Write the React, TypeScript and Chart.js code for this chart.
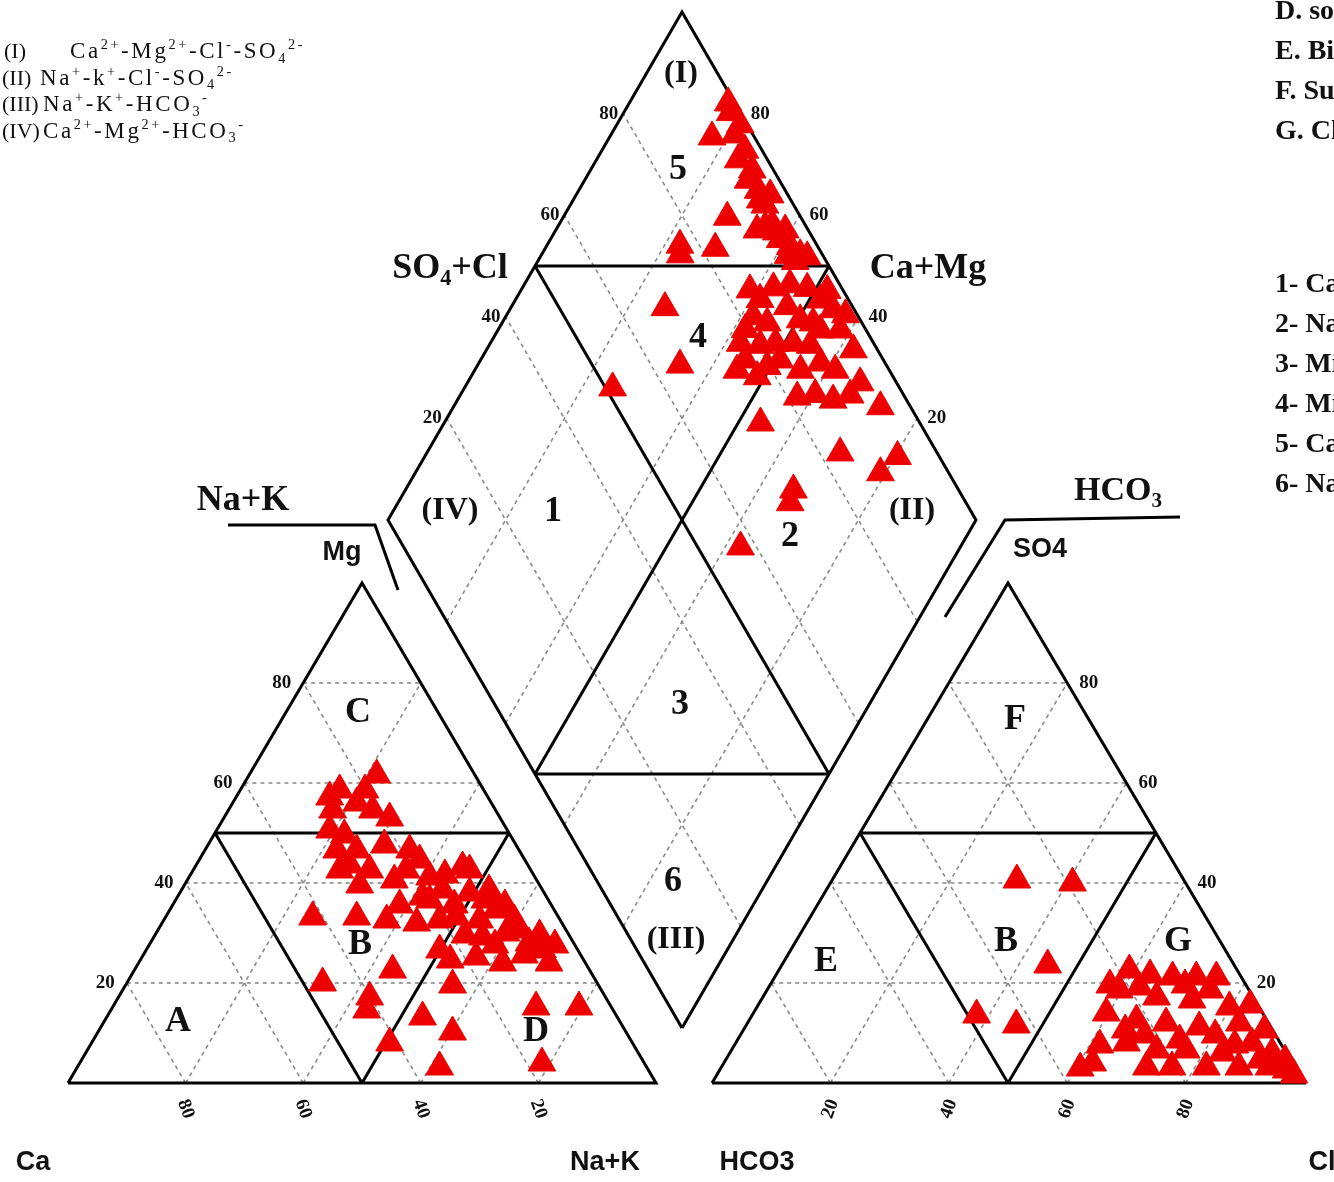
import React, { useEffect, useRef } from "react";
import { Chart, registerables } from "chart.js";
Chart.register(...registerables);

const W = 1334;
const H = 1182;

// ---------------- data (percent compositions) ----------------
// Cation triangle: Mg % and Na+K % (Ca = remainder)
const cationMg = [61.6, 57.2, 54.6, 56.0, 54.6, 53.0, 46.6, 46.6, 42.6, 42.6, 46.6, 42.6, 41.2, 37.2, 38.6, 43.2, 38.0, 33.2, 38.6, 34.6, 30.0, 29.2, 32.0, 28.0, 26.6, 24.0, 24.0, 25.2, 26.6, 33.2, 33.2, 32.6, 22.6, 20.0, 17.2, 14.6, 19.6, 13.2, 10.2, 8.0, 3.2, 15.2, 15.2, 4.0, 35.6, 32.6, 25.6, 32.6, 32.6, 49.6, 47.6, 39.6, 40.6, 44.6, 41.6, 42.6, 36.6, 35.6, 30.6, 29.6, 27.6, 29.6, 24.6, 27.6, 36.6, 35.6, 50.6, 43.6, 58.6, 58.6];
const cationNaK = [21.7, 15.9, 17.7, 21.1, 24.5, 28.2, 22.4, 25.8, 24.9, 30.0, 34.8, 36.2, 40.9, 41.7, 44.4, 45.5, 49.3, 49.4, 52.3, 55.5, 59.5, 55.9, 43.3, 64.4, 67.4, 69.8, 61.9, 56.8, 49.9, 25.0, 32.5, 37.9, 43.9, 33.3, 42.7, 43.5, 55.6, 53.7, 60.3, 50.7, 61.6, 72.0, 79.3, 78.6, 47.9, 59.6, 64.8, 53.7, 46.9, 22.2, 30.0, 29.8, 35.2, 37.5, 43.3, 47.0, 52.6, 56.5, 61.5, 65.4, 69.0, 52.7, 52.7, 58.8, 43.2, 38.6, 19.2, 26.1, 16.9, 21.2];
// Anion triangle: SO4 % and Cl % (HCO3 = remainder)
const anionSO4 = [40.6, 40.0, 23.6, 13.6, 11.6, 22.6, 19.2, 21.2, 21.2, 21.2, 17.2, 16.6, 15.2, 14.0, 12.6, 12.0, 11.2, 12.0, 8.0, 8.0, 6.6, 6.6, 6.0, 3.2, 3.2, 3.2, 3.2, 3.2, 2.6, 4.0, 6.0, 1.6, 10.6, 18.6, 19.6, 21.6, 19.6, 18.6, 10.6, 7.6, 9.6, 8.6, 9.6, 15.6, 7.6, 4.6, 4.6, 3.0];
const anionCl = [31.2, 40.9, 44.9, 37.9, 45.6, 59.2, 62.6, 67.2, 71.2, 74.6, 66.5, 72.8, 79.8, 59.6, 65.4, 70.7, 76.7, 83.1, 87.2, 66.0, 71.8, 76.8, 83.2, 71.8, 76.1, 81.9, 87.4, 92.5, 95.7, 62.3, 91.6, 97.5, 88.0, 59.5, 57.4, 63.2, 70.1, 74.8, 64.5, 61.7, 68.3, 74.7, 80.2, 83.1, 84.5, 90.3, 94.5, 60.7];
// Diamond: SO4+Cl % and Ca+Mg %
const diamondSO4Cl = [98.3, 92.8, 96.9, 97.1, 96.4, 95.4, 95.1, 94.4, 94.3, 94.1, 94.7, 87.5, 93.0, 76.7, 75.8, 82.4, 95.3, 97.2, 98.8, 94.8, 94.4, 94.7, 68.0, 64.9, 51.2, 88.4, 94.1, 97.3, 82.1, 77.3, 74.1, 83.9, 88.9, 86.3, 79.6, 91.7, 96.4, 95.6, 95.9, 89.0, 76.9, 81.7, 87.5, 93.8, 94.9, 72.9, 83.5, 92.9, 88.4, 70.1, 71.9, 57.3, 95.2, 98.0, 89.8, 89.0, 83.3, 79.5, 85.0, 95.0, 97.0, 96.1, 96.2, 91.3, 98.9, 84.2, 91.5, 92.2, 82.4, 84.9, 90.8, 90.9, 85.0, 76.5, 80.5];
const diamondCaMg = [81.9, 82.6, 78.9, 75.7, 72.5, 69.5, 66.9, 63.7, 60.9, 58.0, 72.2, 72.1, 64.7, 77.4, 76.4, 71.1, 58.5, 54.6, 79.0, 68.2, 62.3, 56.2, 73.8, 65.6, 74.8, 57.3, 51.5, 47.9, 57.9, 57.5, 55.4, 54.9, 53.1, 48.5, 50.6, 47.1, 45.0, 41.8, 37.6, 41.9, 51.3, 42.5, 36.1, 33.2, 27.4, 46.2, 29.7, 19.6, 20.9, 33.3, 34.0, 37.4, 48.1, 42.4, 49.6, 45.4, 51.5, 58.0, 58.4, 75.9, 67.0, 61.0, 56.0, 65.8, 83.2, 61.1, 54.8, 45.2, 49.1, 44.6, 38.7, 33.7, 39.7, 55.0, 53.9];

const gridTicks = [20, 40, 60, 80];
const zoneSplit = 50;

const typeCodes = ["(I)", "(II)", "(III)", "(IV)"];
const typeFormulas = [
  "Ca^{2+}-Mg^{2+}-Cl^{-}-SO_{4}^{2-}",
  "Na^{+}-k^{+}-Cl^{-}-SO_{4}^{2-}",
  "Na^{+}-K^{+}-HCO_{3}^{-}",
  "Ca^{2+}-Mg^{2+}-HCO_{3}^{-}",
];
const waterTypes = [
  "A. Calcium type",
  "B. No dominant type",
  "C. Magnesium type",
  "D. sodium and potassium type",
  "E. Bicarbonate type",
  "F. Sulphate type",
  "G. Chloride type",
];
const zoneTypes = [
  "1- Ca-HCO3 type",
  "2- Na-Cl type",
  "3- Mixed Ca-Na-HCO3 type",
  "4- Mixed Ca-Mg-Cl type",
  "5- Ca-Cl type",
  "6- Na-HCO3 type",
];

// ---------------- geometry ----------------
type P = { x: number; y: number };
type Tri = { a: P; b: P; c: P };
const CAT: Tri = { a: { x: 68, y: 1083 }, b: { x: 656, y: 1083 }, c: { x: 362, y: 583 } }; // Ca, Na+K, Mg
const AN: Tri = { a: { x: 712, y: 1083 }, b: { x: 1304, y: 1083 }, c: { x: 1008, y: 583 } }; // HCO3, Cl, SO4
const DIA = { b: { x: 682, y: 1028 }, r: { x: 976, y: 520 }, l: { x: 388, y: 520 } };

function tern(T: Tri, pb: number, pc: number): P {
  return {
    x: T.a.x + (pb / 100) * (T.b.x - T.a.x) + (pc / 100) * (T.c.x - T.a.x),
    y: T.a.y + (pb / 100) * (T.b.y - T.a.y) + (pc / 100) * (T.c.y - T.a.y),
  };
}
function dia(s: number, m: number): P {
  return {
    x: DIA.b.x + (s / 100) * (DIA.r.x - DIA.b.x) + (m / 100) * (DIA.l.x - DIA.b.x),
    y: DIA.b.y + (s / 100) * (DIA.r.y - DIA.b.y) + (m / 100) * (DIA.l.y - DIA.b.y),
  };
}

const dashed: P[][] = [];
const solid: P[][] = [];
for (const T of [CAT, AN]) {
  solid.push([tern(T, 0, 0), tern(T, 100, 0), tern(T, 0, 100), tern(T, 0, 0)]);
  for (const v of gridTicks) {
    dashed.push([tern(T, 0, v), tern(T, 100 - v, v)]);
    dashed.push([tern(T, v, 0), tern(T, v, 100 - v)]);
    dashed.push([tern(T, 100 - v, 0), tern(T, 0, 100 - v)]);
  }
  const h = zoneSplit;
  solid.push([tern(T, 0, h), tern(T, h, h)]);
  solid.push([tern(T, h, 0), tern(T, h, h)]);
  solid.push([tern(T, h, 0), tern(T, 0, h)]);
}
solid.push([dia(0, 0), dia(100, 0), dia(100, 100), dia(0, 100), dia(0, 0)]);
for (const v of gridTicks) {
  dashed.push([dia(v, 0), dia(v, 100)]);
  dashed.push([dia(0, v), dia(100, v)]);
}
solid.push([dia(zoneSplit, 0), dia(zoneSplit, 100)]);
solid.push([dia(0, zoneSplit), dia(100, zoneSplit)]);
solid.push([dia(zoneSplit, 100), dia(100, zoneSplit)]);
solid.push([dia(zoneSplit, 0), dia(0, zoneSplit)]);
// axis brackets
solid.push([{ x: 228, y: 525 }, { x: 375, y: 525 }, { x: 398, y: 590 }]);
solid.push([{ x: 1180, y: 517 }, { x: 1005, y: 520 }, { x: 945, y: 617 }]);

const serif = "'Liberation Serif', 'Times New Roman', serif";
const sans = "'Liberation Sans', Arial, sans-serif";

function drawRich(ctx: CanvasRenderingContext2D, text: string, x: number, y: number, size: number, family: string, weight: string, align: "left" | "center" = "left", spacing = 0) {
  const parts = text.split(/(\^\{[^}]*\}|_\{[^}]*\})/).filter((p) => p.length > 0);
  const segs = parts.map((p) => {
    if (p.startsWith("^{")) return { t: p.slice(2, -1), fs: size * 0.62, dy: -size * 0.38 };
    if (p.startsWith("_{")) return { t: p.slice(2, -1), fs: size * 0.62, dy: size * 0.2 };
    return { t: p, fs: size, dy: 0 };
  });
  (ctx as any).letterSpacing = `${spacing}px`;
  let total = 0;
  for (const s of segs) {
    ctx.font = `${weight} ${s.fs}px ${family}`;
    total += ctx.measureText(s.t).width;
  }
  let cx = align === "center" ? x - total / 2 : x;
  ctx.textAlign = "left";
  ctx.textBaseline = "alphabetic";
  for (const s of segs) {
    ctx.font = `${weight} ${s.fs}px ${family}`;
    ctx.fillText(s.t, cx, y + s.dy);
    cx += ctx.measureText(s.t).width;
  }
  (ctx as any).letterSpacing = "0px";
}

function txt(ctx: CanvasRenderingContext2D, t: string, x: number, y: number, font: string, align: CanvasTextAlign = "center", rot = 0) {
  ctx.save();
  ctx.translate(x, y);
  if (rot) ctx.rotate(rot);
  ctx.font = font;
  ctx.textAlign = align;
  ctx.textBaseline = "middle";
  ctx.fillText(t, 0, 0);
  ctx.restore();
}

function drawTexts(ctx: CanvasRenderingContext2D) {
  ctx.save();
  ctx.fillStyle = "#111";
  // top-left legend
  const codeX = [4, 2, 2, 2];
  const formX = [70, 40, 43, 43];
  typeCodes.forEach((c, i) => {
    const y = 58 + i * 26.5;
    drawRich(ctx, c, codeX[i], y, 22, serif, "normal");
    drawRich(ctx, typeFormulas[i], formX[i], y, 23, serif, "normal", "left", 2.6);
  });
  // right legend
  waterTypes.forEach((t, i) => txt(ctx, t, 1275, 12 + (i - 3) * 40, `bold 28px ${serif}`, "left"));
  zoneTypes.forEach((t, i) => txt(ctx, t, 1275, 285 + i * 40, `bold 28px ${serif}`, "left"));

  // region labels
  const big = `bold 36px ${serif}`;
  const mid = `bold 32px ${serif}`;
  txt(ctx, "(I)", 681, 74, mid);
  txt(ctx, "5", 678, 170, big);
  txt(ctx, "4", 698, 338, big);
  txt(ctx, "(IV)", 450, 511, mid);
  txt(ctx, "1", 553, 512, big);
  txt(ctx, "2", 790, 537, big);
  txt(ctx, "(II)", 912, 511, mid);
  txt(ctx, "3", 680, 705, big);
  txt(ctx, "6", 673, 882, big);
  txt(ctx, "(III)", 676, 940, mid);
  txt(ctx, "C", 358, 713, big);
  txt(ctx, "B", 360, 945, big);
  txt(ctx, "A", 178, 1022, big);
  txt(ctx, "D", 536, 1032, big);
  txt(ctx, "F", 1015, 720, big);
  txt(ctx, "E", 826, 962, big);
  txt(ctx, "B", 1006, 942, big);
  txt(ctx, "G", 1178, 942, big);

  // axis names
  drawRich(ctx, "SO_{4}+Cl", 450, 278, 36, serif, "bold", "center");
  drawRich(ctx, "Ca+Mg", 928, 278, 36, serif, "bold", "center");
  drawRich(ctx, "Na+K", 243, 510, 36, serif, "bold", "center");
  drawRich(ctx, "HCO_{3}", 1118, 500, 34, serif, "bold", "center");
  txt(ctx, "Mg", 342, 553, `bold 27px ${sans}`);
  txt(ctx, "SO4", 1040, 550, `bold 27px ${sans}`);
  txt(ctx, "Ca", 33, 1163, `bold 27px ${sans}`);
  txt(ctx, "Na+K", 605, 1163, `bold 27px ${sans}`);
  txt(ctx, "HCO3", 757, 1163, `bold 27px ${sans}`);
  txt(ctx, "Cl", 1322, 1163, `bold 27px ${sans}`);

  // tick labels
  const tf = `bold 19px ${serif}`;
  for (const v of gridTicks) {
    const s = String(v);
    let p = tern(CAT, 0, v);
    txt(ctx, s, p.x - 12, p.y, tf, "right");
    p = tern(AN, 100 - v, v);
    txt(ctx, s, p.x + 12, p.y, tf, "left");
    p = tern(CAT, 100 - v, 0);
    txt(ctx, s, p.x, p.y + 26, tf, "center", (70 * Math.PI) / 180);
    p = tern(AN, v, 0);
    txt(ctx, s, p.x, p.y + 26, tf, "center", (-70 * Math.PI) / 180);
    p = dia(v, 100);
    txt(ctx, s, p.x - 5, p.y, tf, "right");
    p = dia(100, v);
    txt(ctx, s, p.x + 10, p.y, tf, "left");
  }
  ctx.restore();
}

let textDone = false;
const bgPlugin = {
  id: "bg",
  beforeDraw(chart: any) {
    textDone = false;
    const c = chart.ctx;
    c.save();
    c.fillStyle = "#ffffff";
    c.fillRect(0, 0, chart.width, chart.height);
    c.restore();
  },
  beforeDatasetDraw(chart: any, args: any) {
    const ds = chart.data.datasets[args.index];
    if (ds && ds.kind === "pts" && !textDone) {
      textDone = true;
      drawTexts(chart.ctx);
    }
  },
};

function lineDs(pts: P[], dash: boolean) {
  return {
    data: pts,
    showLine: true,
    borderColor: dash ? "#8a8a8a" : "#000000",
    borderWidth: dash ? 1.6 : 3,
    borderDash: dash ? [4, 4] : [],
    pointRadius: 0,
    fill: false,
    order: dash ? 3 : 2,
    kind: "line",
  };
}

function ptsDs(label: string, pts: P[]) {
  return {
    label,
    data: pts,
    showLine: false,
    pointStyle: "triangle",
    pointRadius: 16,
    pointBackgroundColor: "#ee0000",
    pointBorderColor: "#ee0000",
    pointBorderWidth: 1,
    order: 1,
    kind: "pts",
  };
}

export default function App() {
  const ref = useRef<HTMLCanvasElement>(null);
  useEffect(() => {
    const canvas = ref.current;
    if (!canvas) return;
    const cationPts = cationMg.map((mg, i) => tern(CAT, cationNaK[i], mg));
    const anionPts = anionSO4.map((so4, i) => tern(AN, anionCl[i], so4));
    const diaPts = diamondSO4Cl.map((s, i) => dia(s, diamondCaMg[i]));
    const datasets: any[] = [
      ...dashed.map((l) => lineDs(l, true)),
      ...solid.map((l) => lineDs(l, false)),
      ptsDs("cations", cationPts),
      ptsDs("anions", anionPts),
      ptsDs("diamond", diaPts),
    ];
    const chart = new Chart(canvas, {
      type: "scatter",
      data: { datasets },
      options: {
        animation: false,
        responsive: false,
        devicePixelRatio: 1,
        events: [],
        layout: { padding: 0, autoPadding: false },
        plugins: { legend: { display: false }, tooltip: { enabled: false } },
        scales: {
          x: { type: "linear", min: 0, max: W, display: false },
          y: { type: "linear", min: 0, max: H, reverse: true, display: false },
        },
      } as any,
      plugins: [bgPlugin as any],
    });
    return () => chart.destroy();
  }, []);
  return (
    <div style={{ position: "fixed", left: 0, top: 0, width: W, height: H, background: "#fff" }}>
      <canvas ref={ref} width={W} height={H} style={{ display: "block", width: W, height: H }} />
    </div>
  );
}
